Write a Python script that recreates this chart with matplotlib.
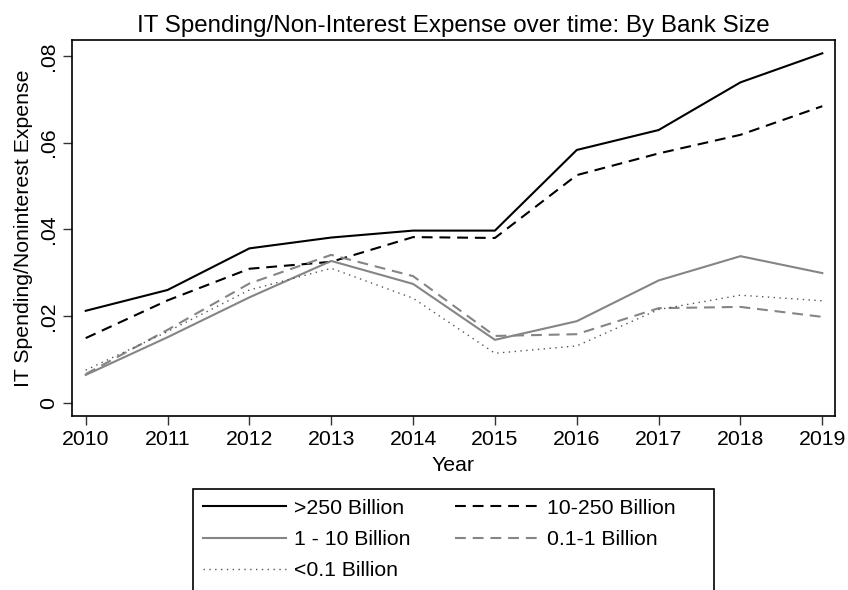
import matplotlib
matplotlib.use("Agg")
import matplotlib.pyplot as plt
from matplotlib.ticker import FuncFormatter
from matplotlib.patches import Rectangle

plt.rcParams['font.family'] = ['Liberation Sans', 'DejaVu Sans']

years = [2010, 2011, 2012, 2013, 2014, 2015, 2016, 2017, 2018, 2019]
over250 = [0.0212, 0.0260, 0.0356, 0.0381, 0.0397, 0.0397, 0.0583, 0.0629, 0.0739, 0.0806]
b10_250 = [0.0149, 0.0236, 0.0309, 0.0325, 0.0382, 0.0380, 0.0525, 0.0575, 0.0618, 0.0684]
b1_10 = [0.0064, 0.0151, 0.0243, 0.0327, 0.0274, 0.0145, 0.0188, 0.0282, 0.0338, 0.0299]
b01_1 = [0.0066, 0.0168, 0.0275, 0.0341, 0.0292, 0.0154, 0.0158, 0.0218, 0.0221, 0.0198]
under01 = [0.0075, 0.0164, 0.0260, 0.0310, 0.0241, 0.0114, 0.0131, 0.0215, 0.0248, 0.0235]
labels = [">250 Billion", "10-250 Billion", "1 - 10 Billion", "0.1-1 Billion", "<0.1 Billion"]
yticks = [0, 0.02, 0.04, 0.06, 0.08]

fig = plt.figure(figsize=(8.48, 5.9), dpi=100)
W, H = 848, 590
ax = fig.add_axes([71.7 / W, 1 - 415.7 / H, (835 - 71.7) / W, (415.7 - 40) / H])

gray = '#858585'
dash = (0, (5.2, 3.3))
h0, = ax.plot(years, over250, color='black', lw=1.5, label=labels[0])
h1, = ax.plot(years, b10_250, color='black', lw=1.5, linestyle=dash, label=labels[1])
h2, = ax.plot(years, b1_10, color=gray, lw=1.5, label=labels[2])
h3, = ax.plot(years, b01_1, color=gray, lw=1.5, linestyle=dash, label=labels[3])
h4, = ax.plot(years, under01, color='#555555', lw=1.0, linestyle=(0, (1, 3.2)), label=labels[4])

ax.set_xlim(2009.829, 2019.155)
ax.set_ylim(-0.0030, 0.08367)
ax.set_xticks(years)
ax.set_yticks(yticks)

def fmt(v, pos):
    if abs(v) < 1e-12:
        return "0"
    return ("%.2f" % v).lstrip("0")

ax.yaxis.set_major_formatter(FuncFormatter(fmt))
ax.tick_params(axis='both', direction='out', length=6.5, width=1.0, labelsize=15.3, color='#333333')
for lab in ax.get_yticklabels():
    lab.set_rotation(90)
    lab.set_va('center')
for s in ax.spines.values():
    s.set_linewidth(1.2)

ax.set_xlabel("Year", fontsize=15.3, labelpad=5)
ax.set_ylabel("IT Spending/Noninterest Expense", fontsize=15.3, labelpad=4)
ax.set_title("IT Spending/Non-Interest Expense over time: By Bank Size", fontsize=17.4, pad=6)

# row-major order: matplotlib fills columns first
handles = [h0, h2, h4, h1, h3]
leg_labels = [labels[0], labels[2], labels[4], labels[1], labels[3]]
leg = fig.legend(handles, leg_labels, loc='upper left',
                 bbox_to_anchor=(193.3 / W, 1 - 489.3 / H), ncol=2,
                 fontsize=15.3, handlelength=3.9, handletextpad=0.4, columnspacing=2.1,
                 borderpad=0.45, labelspacing=0.57, frameon=False, borderaxespad=0)

fig.patches.append(Rectangle((193.3 / W, -0.05), (714.3 - 193.3) / W, 1 - 489.3 / H + 0.05,
                             transform=fig.transFigure, fill=False, edgecolor='black',
                             linewidth=1.2, figure=fig))

fig.savefig("out.png", dpi=100)
